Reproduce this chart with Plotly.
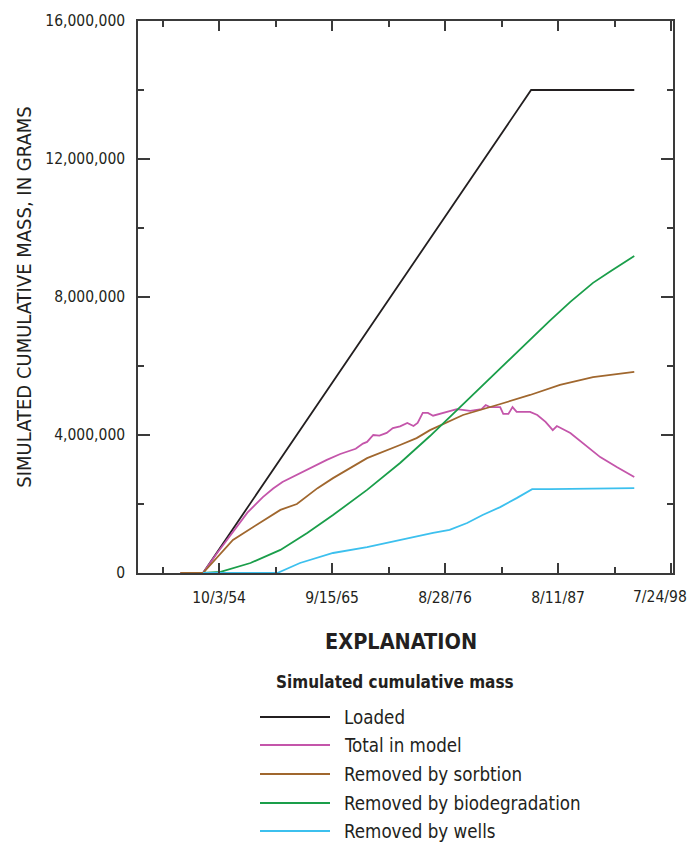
import pandas as pd
import plotly.graph_objects as go

# ---- data: simulated cumulative mass (millions of grams) vs decimal year ----
loaded_t = [1953.2, 1985.0, 1995.0]
loaded_v = [0.0, 14.0, 14.0]

total_t = [1951.0, 1953.2, 1954.5, 1956.1, 1957.5, 1959.0, 1960.0, 1960.9, 1962.6, 1964.0,
           1965.2, 1966.5, 1968.0, 1968.7, 1969.1, 1969.7, 1970.3, 1971.0, 1971.6, 1972.3,
           1973.0, 1973.6, 1974.0, 1974.5, 1975.0, 1975.5, 1976.8, 1977.8, 1979.1, 1980.2,
           1980.6, 1981.0, 1982.0, 1982.3, 1982.8, 1983.2, 1983.6, 1984.9, 1985.6, 1986.4,
           1987.1, 1987.5, 1988.8, 1990.0, 1991.7, 1993.3, 1995.0]
total_v = [0.0, 0.0, 0.55, 1.2, 1.75, 2.2, 2.45, 2.64, 2.9, 3.1,
           3.28, 3.45, 3.6, 3.75, 3.8, 4.0, 3.98, 4.06, 4.2, 4.25,
           4.35, 4.26, 4.35, 4.64, 4.64, 4.56, 4.67, 4.75, 4.70, 4.75,
           4.87, 4.81, 4.81, 4.61, 4.61, 4.81, 4.67, 4.67, 4.58, 4.38,
           4.14, 4.26, 4.06, 3.77, 3.36, 3.07, 2.78]

sorb_t = [1951.0, 1953.2, 1956.1, 1958.7, 1960.7, 1962.3, 1964.3, 1965.8, 1969.1, 1972.3,
          1973.9, 1975.2, 1978.4, 1981.7, 1984.9, 1987.8, 1991.0, 1995.0]
sorb_v = [0.0, 0.0, 0.96, 1.45, 1.83, 2.0, 2.46, 2.75, 3.33, 3.71,
          3.91, 4.14, 4.58, 4.87, 5.16, 5.45, 5.68, 5.83]

bio_t = [1953.2, 1954.9, 1957.8, 1960.7, 1963.3, 1965.8, 1969.1, 1972.3, 1975.2, 1977.8,
         1982.0, 1985.0, 1986.8, 1988.8, 1991.0, 1992.7, 1995.0]
bio_v = [0.0, 0.03, 0.29, 0.67, 1.16, 1.68, 2.41, 3.19, 3.97, 4.72,
         5.92, 6.78, 7.31, 7.86, 8.41, 8.75, 9.19]

wells_t = [1953.2, 1960.4, 1962.6, 1965.8, 1969.1, 1972.3, 1975.5, 1977.1, 1978.8, 1980.3,
           1982.0, 1983.6, 1985.1, 1986.8, 1995.0]
wells_v = [0.0, 0.0, 0.29, 0.58, 0.75, 0.96, 1.16, 1.25, 1.45, 1.68,
           1.91, 2.17, 2.43, 2.43, 2.46]

series_names = ["Loaded", "Total in model", "Removed by sorbtion",
                "Removed by biodegradation", "Removed by wells"]
series_colors = ["#231f20", "#c455aa", "#a0672e", "#1a9e4a", "#3cc0ee"]

x_tick_dates = ["1954-10-03", "1965-09-15", "1976-08-28", "1987-08-11", "1998-07-24"]
x_tick_text = ["10/3/54", "9/15/65", "8/28/76", "8/11/87", "7/24/98"]
y_tick_vals = [0, 4e6, 8e6, 12e6, 16e6]
y_tick_text = ["0", "4,000,000", "8,000,000", "12,000,000", "16,000,000"]

FONT = "DejaVu Sans Condensed, Liberation Sans Narrow, Arial Narrow, sans-serif"
INK = "#231f20"
AXIS = "#3a3a3a"


def to_dates(years):
    out = []
    for y in years:
        yr = int(y)
        start = pd.Timestamp(year=yr, month=1, day=1)
        end = pd.Timestamp(year=yr + 1, month=1, day=1)
        out.append(start + (end - start) * (y - yr))
    return out


def grams(vals):
    return [v * 1e6 for v in vals]


fig = go.Figure()
all_series = [(loaded_t, loaded_v), (total_t, total_v), (sorb_t, sorb_v),
              (bio_t, bio_v), (wells_t, wells_v)]
for (t, v), name, col in zip(all_series, series_names, series_colors):
    fig.add_trace(go.Scatter(x=to_dates(t), y=grams(v), mode="lines", name=name,
                             line=dict(color=col, width=1.8), showlegend=False))

# the last date label sits against the right frame, so it is drawn
# separately and right-aligned to stay inside the page
axis_labels = x_tick_text[:-1] + [""]

DAY_MS = 86400000
fig.update_xaxes(
    type="date", range=["1946-11-25", "1998-10-03"], automargin=False,
    tickmode="array", tickvals=x_tick_dates, ticktext=axis_labels,
    ticks="inside", ticklen=10, tickwidth=1.5, tickcolor=AXIS,
    minor=dict(tick0="1954-10-03", dtick=2000 * DAY_MS, ticks="inside",
               ticklen=6, tickwidth=1.5, tickcolor=AXIS),
    showline=True, linecolor=AXIS, linewidth=1.5, mirror="ticks",
    showgrid=False, zeroline=False, ticklabelstandoff=10,
    tickfont=dict(family=FONT, size=15.5, color=INK),
)
fig.update_yaxes(
    range=[0, 16e6], automargin=False,
    tickmode="array", tickvals=y_tick_vals, ticktext=y_tick_text,
    ticks="inside", ticklen=12, tickwidth=1.5, tickcolor=AXIS,
    minor=dict(tick0=0, dtick=2e6, ticks="inside", ticklen=6,
               tickwidth=1.5, tickcolor=AXIS),
    showline=True, linecolor=AXIS, linewidth=1.5, mirror="ticks",
    showgrid=False, zeroline=False, ticklabelstandoff=8,
    tickfont=dict(family=FONT, size=15.5, color=INK),
    title=dict(text="SIMULATED CUMULATIVE MASS, IN GRAMS",
               font=dict(family=FONT, size=20, color=INK), standoff=8),
)

# plot box: 138..673 px horizontally, 21..573 px vertically
L, R, T, B = 138, 673, 21, 573


def px_x(px):
    return (px - L) / (R - L)


def px_y(py):
    return (B - py) / (B - T)


annotations = [
    dict(text=x_tick_text[-1], x=px_x(689), y=px_y(597), xref="paper", yref="paper",
         showarrow=False, xanchor="right", yanchor="middle",
         font=dict(family=FONT, size=15.5, color=INK)),
    dict(text="<b>EXPLANATION</b>", x=px_x(401), y=px_y(641), xref="paper", yref="paper",
         showarrow=False, xanchor="center", yanchor="middle",
         font=dict(family=FONT, size=21.5, color=INK)),
    dict(text="<b>Simulated cumulative mass</b>", x=px_x(395), y=px_y(682),
         xref="paper", yref="paper", showarrow=False, xanchor="center", yanchor="middle",
         font=dict(family=FONT, size=17, color=INK)),
]
shapes = []
row_y = [717, 745, 774, 803, 831]
for name, col, ry in zip(series_names, series_colors, row_y):
    shapes.append(dict(type="line", xref="paper", yref="paper",
                       x0=px_x(260), x1=px_x(330), y0=px_y(ry), y1=px_y(ry),
                       line=dict(color=col, width=1.8)))
    annotations.append(dict(text=name, x=px_x(342), y=px_y(ry), xref="paper", yref="paper",
                            showarrow=False, xanchor="left", yanchor="middle",
                            font=dict(family=FONT, size=18.6, color=INK)))

fig.update_layout(
    width=691, height=842,
    margin=dict(l=L, r=691 - R, t=T, b=842 - B),
    paper_bgcolor="white", plot_bgcolor="white",
    annotations=annotations, shapes=shapes,
    font=dict(family=FONT, color=INK),
)

fig.write_html("out.html")
